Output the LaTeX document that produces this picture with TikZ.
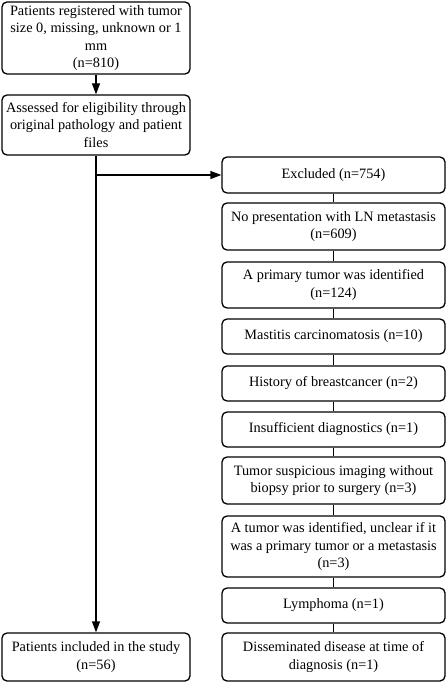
\documentclass[tikz,border=0pt]{standalone}
\usepackage{fontspec}
\setmainfont{Liberation Serif}
\usetikzlibrary{arrows.meta}
\begin{document}
\begin{tikzpicture}[x=1pt,y=-1pt,
  box/.style={draw, line width=1.3pt, rounded corners=5pt, align=center,
    inner sep=1pt, font=\fontsize{14.3}{17.3}\selectfont},
  leftbox/.style={box, minimum width=188pt},
  rightbox/.style={box, minimum width=223pt},
  flow/.style={line width=1.3pt, -{Triangle[length=11pt,width=8pt]}},
  link/.style={line width=1.3pt}]
\useasboundingbox (0,0) rectangle (446,682);
% main column
\node[leftbox, minimum height=72pt] (reg) at (96,38)
  {Patients registered with tumor\\ size 0, missing, unknown or 1\\ mm\\ (n=810)};
\node[leftbox, minimum height=60pt] (assess) at (96,125)
  {Assessed for eligibility through\\ original pathology and patient\\ files};
\node[leftbox, minimum height=48pt] (incl) at (96,657)
  {Patients included in the study\\ (n=56)};
% exclusion column
\node[rightbox, minimum height=36pt] (excl) at (333.5,175) {Excluded (n=754)};
\node[rightbox, minimum height=47pt] (e1) at (333.5,226.5) {No presentation with LN metastasis\\ (n=609)};
\node[rightbox, minimum height=46pt] (e2) at (333.5,285) {A primary tumor was identified\\ (n=124)};
\node[rightbox, minimum height=35pt] (e3) at (333.5,336.5) {Mastitis carcinomatosis (n=10)};
\node[rightbox, minimum height=35pt] (e4) at (333.5,383.5) {History of breastcancer (n=2)};
\node[rightbox, minimum height=35pt] (e5) at (333.5,429.5) {Insufficient diagnostics (n=1)};
\node[rightbox, minimum height=47pt] (e6) at (333.5,480.5) {Tumor suspicious imaging without\\ biopsy prior to surgery (n=3)};
\node[rightbox, minimum height=61pt] (e7) at (333.5,546.5) {A tumor was identified, unclear if it\\ was a primary tumor or a metastasis\\ (n=3)};
\node[rightbox, minimum height=35pt] (e8) at (333.5,605.5) {Lymphoma (n=1)};
\node[rightbox, minimum height=48pt] (e9) at (333.5,657) {Disseminated disease at time of\\ diagnosis (n=1)};
% connectors
\draw[flow] (reg) -- (assess);
\draw[flow] (assess) -- (incl);
\coordinate (split) at (assess.south |- excl.west);
\draw[flow] (split) -- (excl.west);
\foreach \a/\b in {excl/e1,e1/e2,e2/e3,e3/e4,e4/e5,e5/e6,e6/e7,e7/e8,e8/e9}
  \draw[link] (\a) -- (\b);
\end{tikzpicture}
\end{document}
